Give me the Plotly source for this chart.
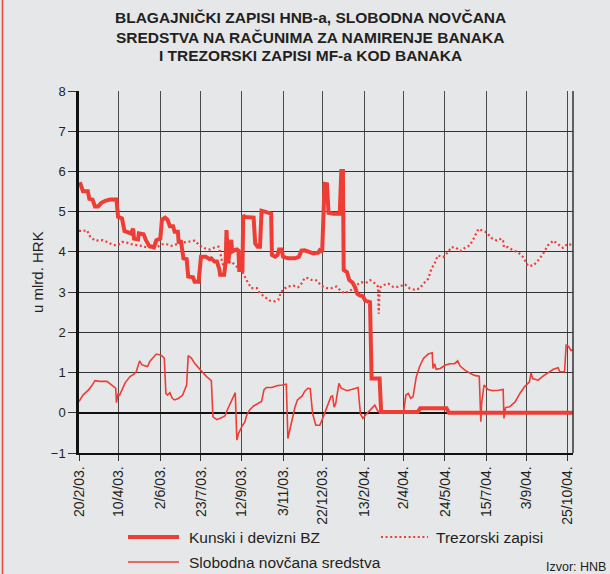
import pandas as pd
import plotly.graph_objects as go

# ---- data (values in mlrd. HRK; x as days since 20 Feb 2003) ----
start_date = "2003-02-20"

K_day = [1,3,5,11,13,17,20,24,28,33,39,47,49,54,57,65,68,69,74,75,81,84,88,94,97,102,104,108,111,114,
         118,120,124,125,128,131,135,137,143,145,150,153,159,164,166,170,173,176,177,182,184,185,187,191,192,
         196,198,200,201,205,206,208,214,219,221,224,227,229,233,237,241,242,246,249,251,254,256,262,271,276,
         279,283,290,294,300,302,305,308,311,313,319,327,329,331,332,336,339,343,346,349,352,356,359,365,367,
         377,379,425,428,461,464,620]
K_val = [5.73,5.61,5.51,5.51,5.32,5.30,5.13,5.13,5.22,5.27,5.30,5.30,4.87,4.83,4.52,4.46,4.58,4.33,4.31,4.46,
         4.44,4.29,4.15,4.11,4.29,4.33,4.80,4.85,4.80,4.64,4.64,4.50,4.50,4.25,4.25,3.84,3.82,3.39,3.37,3.26,
         3.26,3.88,3.88,3.82,3.84,3.76,3.76,3.57,3.43,3.43,3.76,4.54,3.72,4.30,4.01,4.05,4.06,4.03,3.55,3.55,
         4.91,4.87,4.85,4.85,4.21,4.13,4.13,5.02,5.00,4.97,4.95,3.92,3.88,3.92,4.06,4.06,3.88,3.84,3.84,3.88,
         4.03,4.04,3.98,3.96,3.98,4.04,4.00,5.69,5.68,4.97,4.95,4.95,6.01,6.01,3.55,3.50,3.30,3.24,3.13,2.96,
         2.92,2.90,2.79,2.75,0.85,0.85,0.02,0.02,0.11,0.11,0.0,0.0]

T_day = [0,5,10,14,20,26,30,37,43,49,54,60,66,72,79,85,91,97,104,110,116,122,129,137,145,152,158,164,170,175,
         177,179,181,186,191,198,204,206,210,216,223,227,233,239,246,250,253,256,262,269,275,279,283,287,292,
         298,304,311,317,323,327,333,338,342,348,354,361,365,371,375,376,377,381,388,394,400,409,415,421,427,
         434,438,442,446,450,457,463,467,473,478,484,490,495,501,506,511,517,524,530,532,533,538,544,551,557,
         563,570,576,582,588,595,601,607,613,620]
T_val = [4.52,4.52,4.54,4.38,4.28,4.28,4.29,4.23,4.17,4.17,4.25,4.23,4.19,4.17,4.15,4.11,4.11,4.11,4.19,4.19,
         4.15,4.19,4.23,4.25,4.28,4.15,4.09,4.06,4.11,4.13,4.00,3.80,3.65,3.72,3.76,3.63,3.55,3.47,3.30,3.10,
         3.10,2.97,2.89,2.79,2.77,2.81,2.97,3.07,3.14,3.16,3.12,3.21,3.35,3.35,3.30,3.29,3.16,3.10,3.10,3.14,
         3.06,2.97,3.02,3.06,3.18,3.24,3.24,3.30,3.22,3.14,2.46,3.10,3.17,3.21,3.13,3.13,3.19,3.09,3.06,3.09,
         3.25,3.33,3.58,3.71,3.91,3.87,4.00,4.12,4.10,4.02,4.10,4.16,4.33,4.57,4.53,4.49,4.35,4.28,4.33,4.27,
         4.12,4.12,4.04,3.99,3.87,3.66,3.66,3.79,3.95,4.16,4.28,4.20,4.10,4.20,4.16]

S_day = [0,5,12,16,20,26,35,39,44,46,47,49,51,54,58,64,69,72,76,79,83,86,89,93,97,103,107,109,111,114,
         117,120,125,130,135,137,141,145,150,154,160,166,168,173,179,183,186,191,196,198,200,204,208,210,214,
         219,225,229,232,235,242,248,255,260,262,265,268,271,274,277,280,283,287,290,293,297,302,306,311,316,
         318,320,322,326,329,336,342,350,353,356,361,367,371,374,377,407,410,413,416,419,423,427,432,438,443,
         444,446,448,453,459,465,471,475,478,484,490,496,502,504,505,508,513,519,526,532,533,535,540,547,553,
         559,565,567,569,576,582,588,595,601,603,609,611,614,617,620]
S_val = [0.28,0.44,0.57,0.67,0.80,0.78,0.78,0.72,0.63,0.61,0.25,0.48,0.44,0.57,0.75,0.90,0.96,1.03,1.29,1.19,
         1.17,1.15,1.28,1.38,1.46,1.43,1.36,0.48,0.44,0.50,0.36,0.32,0.36,0.44,0.69,1.42,1.36,1.23,1.13,1.03,
         0.90,0.80,-0.10,-0.17,-0.12,-0.08,0.07,0.28,0.50,-0.68,-0.52,-0.35,-0.23,-0.08,0.07,0.17,0.23,0.28,0.57,0.63,
         0.63,0.67,0.69,0.71,-0.64,-0.35,-0.06,0.15,0.32,0.36,0.42,0.53,0.61,0.60,-0.02,-0.31,-0.31,-0.12,0.15,0.40,
         0.42,0.14,0.23,0.73,0.61,0.55,0.58,0.63,-0.03,-0.14,-0.02,0.12,0.19,0.07,0.0,0.0,0.44,0.48,0.36,0.40,
         0.89,1.14,1.35,1.46,1.49,1.10,1.22,1.08,1.10,1.18,1.22,1.22,1.29,1.16,1.06,0.99,0.93,0.91,-0.22,0.23,
         0.69,0.58,0.55,0.56,0.58,-0.14,0.13,0.15,0.27,0.48,0.65,0.77,0.99,0.85,0.81,0.91,0.99,1.08,1.12,1.02,
         1.02,1.68,1.65,1.55,1.57]

tick_dates = ["2003-02-20","2003-04-10","2003-06-02","2003-07-23","2003-09-12","2003-11-03","2003-12-22",
              "2004-02-13","2004-04-02","2004-05-24","2004-07-15","2004-09-03","2004-10-25"]
tick_labels = ["20/2/03.","10/4/03.","2/6/03.","23/7/03.","12/9/03.","3/11/03.","22/12/03.",
               "13/2/04.","2/4/04.","24/5/04.","15/7/04.","3/9/04.","25/10/04."]
y_ticks = [-1, 0, 1, 2, 3, 4, 5, 6, 7, 8]

names = ["Kunski i devizni BZ", "Trezorski zapisi", "Slobodna novčana sredstva"]
title_lines = ["BLAGAJNIČKI ZAPISI HNB-a, SLOBODNA NOVČANA",
               "SREDSTVA NA RAČUNIMA ZA NAMIRENJE BANAKA",
               "I TREZORSKI ZAPISI MF-a KOD BANAKA"]

# ---- build ----
base = pd.Timestamp(start_date)
def to_dates(days):
    return [base + pd.Timedelta(days=d) for d in days]

RED = "#ee3d35"
BG = "#e6e7e9"
INK = "#231f20"
FONT = "Liberation Sans, Arial, sans-serif"

fig = go.Figure()
fig.add_trace(go.Scatter(x=to_dates(S_day), y=S_val, mode="lines", name=names[2],
                         line=dict(color=RED, width=1.6), showlegend=False))
fig.add_trace(go.Scatter(x=to_dates(T_day), y=T_val, mode="lines", name=names[1],
                         line=dict(color=RED, width=2.2, dash="2px,2.6px"), showlegend=False))
fig.add_trace(go.Scatter(x=to_dates(K_day), y=K_val, mode="lines", name=names[0],
                         line=dict(color=RED, width=4), showlegend=False))

x_end = base + pd.Timedelta(days=619.6)

fig.update_xaxes(type="date", range=[base, x_end],
                 tickmode="array", tickvals=tick_dates, ticktext=tick_labels,
                 tickangle=-90, ticks="outside", ticklen=6, tickcolor="#333",
                 tickfont=dict(family=FONT, size=14, color=INK),
                 showgrid=True, gridcolor="#4a4a4a", gridwidth=1.3,
                 showline=True, linecolor="#111", linewidth=1.5, zeroline=False)
fig.update_yaxes(range=[-1, 8], tickmode="array", tickvals=y_ticks,
                 ticks="outside", ticklen=8, tickcolor="#333",
                 tickfont=dict(family=FONT, size=13, color=INK),
                 showgrid=True, gridcolor="#333", gridwidth=1,
                 zeroline=True, zerolinecolor="#111", zerolinewidth=2.2,
                 showline=True, linecolor="#111", linewidth=2.5)

PL, PR, PT, PB = 79, 37, 91, 121
W, H = 610, 574
pw, ph = W - PL - PR, H - PT - PB
def px(x):  # pixel -> paper x
    return (x - PL) / pw
def py(y):  # pixel -> paper y
    return (H - PB - y) / ph

shapes = [
    dict(type="line", xref="paper", yref="paper", x0=1, x1=1, y0=0, y1=1,
         line=dict(color="#333", width=1.5)),
    dict(type="line", xref="paper", yref="paper", x0=px(2.5), x1=px(2.5), y0=py(0), y1=py(H),
         line=dict(color="#e8463c", width=1.5)),
    # legend samples
    dict(type="line", xref="paper", yref="paper", x0=px(128), x1=px(179), y0=py(537), y1=py(537),
         line=dict(color=RED, width=4)),
    dict(type="line", xref="paper", yref="paper", x0=px(381), x1=px(428), y0=py(537), y1=py(537),
         line=dict(color=RED, width=2.2, dash="2px,2.6px")),
    dict(type="line", xref="paper", yref="paper", x0=px(128), x1=px(179), y0=py(562), y1=py(562),
         line=dict(color=RED, width=1.6)),
]

ann = []
for line_text, ly in zip(title_lines, [18, 37, 56]):
    ann.append(dict(text="<b>" + line_text + "</b>", xref="paper", yref="paper",
                    x=px(310), y=py(ly), xanchor="center", yanchor="middle", showarrow=False,
                    font=dict(family=FONT, size=15.5, color=INK)))
ann += [
    dict(text="u mlrd. HRK", xref="paper", yref="paper", x=px(37), y=py(272),
         xanchor="center", yanchor="middle",
         textangle=-90, showarrow=False, font=dict(family=FONT, size=15, color=INK)),
    dict(text=names[0], xref="paper", yref="paper", x=px(187), y=py(537), xanchor="left",
         yanchor="middle", showarrow=False, font=dict(family=FONT, size=15.5, color=INK)),
    dict(text=names[1], xref="paper", yref="paper", x=px(434), y=py(537), xanchor="left",
         yanchor="middle", showarrow=False, font=dict(family=FONT, size=15.5, color=INK)),
    dict(text=names[2], xref="paper", yref="paper", x=px(187), y=py(562), xanchor="left",
         yanchor="middle", showarrow=False, font=dict(family=FONT, size=15.5, color=INK)),
    dict(text="Izvor: HNB", xref="paper", yref="paper", x=px(608), y=py(567), xanchor="right",
         yanchor="middle", showarrow=False, font=dict(family=FONT, size=12.5, color=INK)),
    dict(text="Slika 20.", xref="paper", yref="paper", x=px(10), y=py(5), xanchor="left",
         yanchor="bottom", showarrow=False, font=dict(family=FONT, size=13, color=INK)),
]

fig.update_layout(width=W, height=H, autosize=False,
                  margin=dict(l=PL, r=PR, t=PT, b=PB, pad=0),
                  paper_bgcolor=BG, plot_bgcolor=BG,
                  showlegend=False, shapes=shapes, annotations=ann)

fig.write_html("out.html", config={"displayModeBar": False},
               post_script="document.body.style.margin='0';document.body.style.overflow='hidden';")
